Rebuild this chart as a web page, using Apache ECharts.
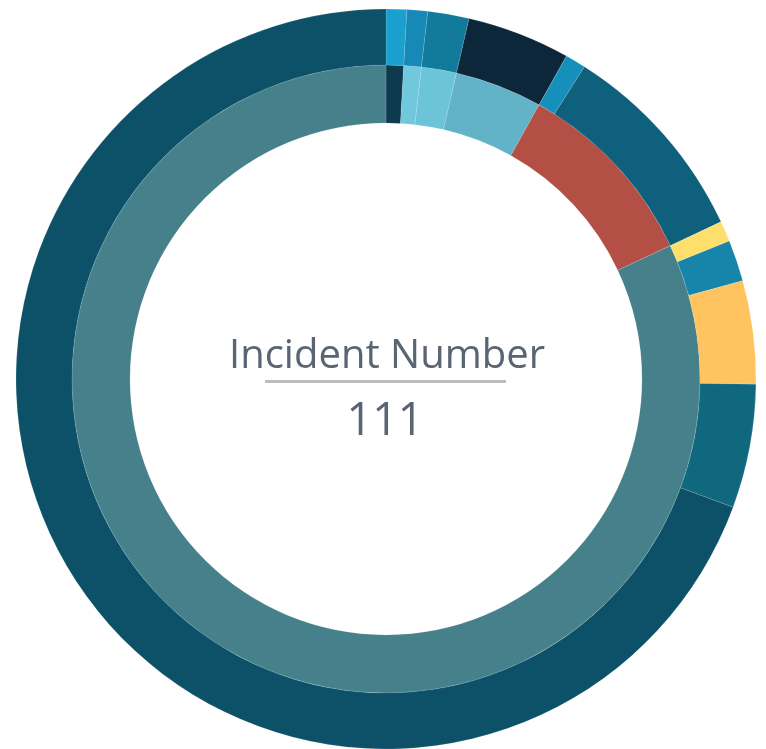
<!DOCTYPE html>
<html>
<head>
<meta charset="utf-8">
<title>Incident Number</title>
<script src="https://cdn.jsdelivr.net/npm/echarts@6/dist/echarts.min.js"></script>
<style>
    html, body { margin: 0; padding: 0; background: #fff; }
    #chart { width: 766px; height: 749px; }
</style>
</head>
<body>
<div id="chart"></div>
<script>
// inner ring = groups, outer ring = their sub items (counts)
var innerNames = ['A', 'B', 'C', 'D', 'E', 'F']
var innerValues = [1, 1, 2, 5, 11, 91]
var innerColors = ['#0e3a4f', '#71c8dd', '#6cc4d9', '#62b3c8', '#b34f44', '#46818b']

var outerNames = ['A1', 'B1', 'C1', 'D1', 'E1', 'E2', 'F1', 'F2', 'F3', 'F4', 'F5']
var outerValues = [1, 1, 2, 5, 1, 10, 1, 2, 5, 6, 77]
var outerColors = ['#1aa0cd', '#1689b6', '#127b9c', '#0b2739', '#1690bb', '#0f607c',
                   '#ffdf6b', '#1784a9', '#ffc35f', '#10687f', '#0d5169']

var centerTitle = 'Incident Number'
var total = innerValues.reduce(function (a, b) { return a + b }, 0)

var cx = 386, cy = 379

function toData(names, values, colors) {
    return values.map(function (v, i) {
        return { name: names[i], value: v, itemStyle: { color: colors[i] } }
    })
}

var myChart = echarts.init(document.getElementById('chart'))

var option = {
    animation: false,
    graphic: [
        {
            type: 'text',
            x: cx + 1,
            y: 357,
            style: {
                text: centerTitle,
                fill: '#596573',
                font: '40px "Open Sans"',
                textAlign: 'center',
                textVerticalAlign: 'middle'
            }
        },
        {
            type: 'line',
            shape: { x1: 265, y1: 381.5, x2: 506, y2: 381.5 },
            style: { stroke: '#bdbdbd', lineWidth: 3 }
        },
        {
            type: 'text',
            x: cx - 1,
            y: 422,
            style: {
                text: String(total),
                fill: '#596573',
                font: '45px "Open Sans"',
                textAlign: 'center',
                textVerticalAlign: 'middle'
            }
        }
    ],
    series: [
        {
            type: 'pie',
            center: [cx, cy],
            radius: [256, 314],
            startAngle: 90,
            clockwise: true,
            silent: true,
            label: { show: false },
            labelLine: { show: false },
            itemStyle: { borderColor: 'rgba(255,255,255,0.25)', borderWidth: 0.5 },
            data: toData(innerNames, innerValues, innerColors)
        },
        {
            type: 'pie',
            center: [cx, cy],
            radius: [314, 370],
            startAngle: 90,
            clockwise: true,
            silent: true,
            label: { show: false },
            labelLine: { show: false },
            itemStyle: { borderColor: 'rgba(255,255,255,0.25)', borderWidth: 0.5 },
            data: toData(outerNames, outerValues, outerColors)
        }
    ]
}

myChart.setOption(option)
</script>
</body>
</html>
